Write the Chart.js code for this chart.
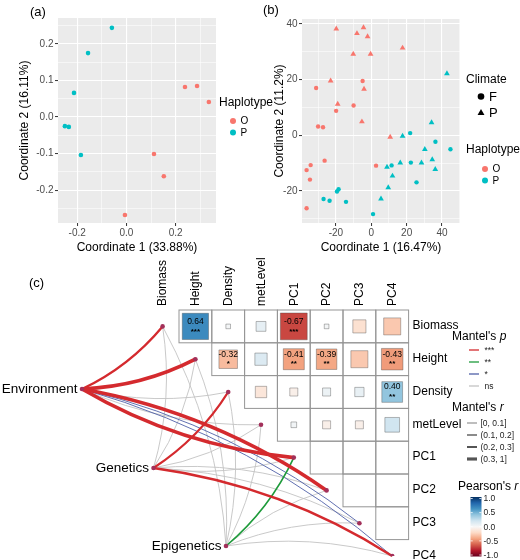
<!DOCTYPE html>
<html>
<head>
<meta charset="utf-8">
<script src="https://cdn.jsdelivr.net/npm/chart.js@4.4.1/dist/chart.umd.min.js"></script>
<style>
html,body{margin:0;padding:0;background:#ffffff;}
#wrap{position:relative;width:520px;height:560px;overflow:hidden;background:#ffffff;}
canvas{position:absolute;display:block;}
</style>
</head>
<body>
<div id="wrap">
<canvas id="chartA" width="290" height="270" style="left:0;top:0;width:290px;height:270px"></canvas>
<canvas id="chartB" width="260" height="270" style="left:260px;top:0;width:260px;height:270px"></canvas>
<canvas id="chartC" width="520" height="310" style="left:0;top:250px;width:520px;height:310px"></canvas>
</div>
<script>
// ================= DATA =================
// Panel (a): PCoA by haplotype
const haplotypes = ['O', 'P'];
const aO_x = [0.238, 0.287, 0.335, 0.112, 0.152, -0.006];
const aO_y = [0.082, 0.085, 0.041, -0.101, -0.162, -0.268];
const aP_x = [-0.059, -0.156, -0.213, -0.250, -0.234, -0.185];
const aP_y = [0.244, 0.175, 0.066, -0.025, -0.027, -0.104];

// Panel (b): by haplotype x climate
const climates = ['F', 'P'];
const bOF_x = [-31.2, -4.9, -10.0, -19.9, -30.1, -27.3, -26.4, -34.3, -36.6, -34.7, 2.7, -36.6];
const bOF_y = [17.0, 19.5, 10.7, 8.8, 3.2, 2.9, -9.1, -10.7, -12.5, -15.9, -10.9, -26.2];
const bOP_x = [-19.8, -8.1, -4.4, -2.1, -10.2, -0.4, 17.7, -23.0, -4.1, -19.0, -5.3, 10.7];
const bOP_y = [38.3, 36.6, 38.7, 35.5, 29.2, 29.2, 31.4, 19.6, 16.6, 11.2, 4.9, -0.6];
const bPF_x = [22.0, 36.3, 44.8, 22.4, 11.5, 25.6, -19.4, -18.5, -27.0, -23.6, -14.3, 1.0];
const bPF_y = [0.8, -2.3, -5.0, -9.8, -10.8, -16.9, -20.2, -19.4, -22.9, -23.5, -23.9, -28.3];
const bPP_x = [17.7, 42.8, 34.1, 30.3, 34.5, 36.2, 28.4, 16.4, 8.9, 12.0, 9.6, 5.5];
const bPP_y = [-0.3, 22.2, 4.6, -5.0, -8.7, -12.2, -9.9, -9.9, -11.4, -14.6, -18.8, -22.8];

// Panel (c): Pearson's r (upper triangle, rows vs later columns)
const traits = ['Biomass', 'Height', 'Density', 'metLevel', 'PC1', 'PC2', 'PC3', 'PC4'];
const pearsonBiomass  = [0.64, 0.02, 0.09, -0.67, 0.02, -0.16, -0.27];
const pearsonHeight   = [-0.32, 0.14, -0.41, -0.39, -0.27, -0.43];
const pearsonDensity  = [-0.12, -0.06, 0.06, 0.08, 0.40];
const pearsonMetLevel = [0.03, -0.06, -0.06, 0.20];
const pearsonPC1 = [null, null, null];
const pearsonPC2 = [null, null];
const pearsonPC3 = [null];
const sigBiomass  = ['***', '', '', '***', '', '', ''];
const sigHeight   = ['*', '', '**', '**', '', '**'];
const sigDensity  = ['', '', '', '', '**'];
const sigMetLevel = ['', '', '', ''];
const sigPC1 = ['', '', ''];
const sigPC2 = ['', ''];
const sigPC3 = [''];

// Mantel tests: sources vs traits
const sources = ['Environment', 'Genetics', 'Epigenetics'];
const mantelP_Environment = ['***', '***', 'ns', 'ns', '***', '***', '*', '*'];
const mantelR_Environment = [0.25, 0.36, 0.05, 0.06, 0.38, 0.36, 0.08, 0.08];
const mantelP_Genetics    = ['ns', 'ns', '***', 'ns', 'ns', 'ns', 'ns', '***'];
const mantelR_Genetics    = [0.05, 0.06, 0.26, 0.04, 0.05, 0.03, 0.05, 0.24];
const mantelP_Epigenetics = ['ns', 'ns', 'ns', 'ns', '**', 'ns', 'ns', 'ns'];
const mantelR_Epigenetics = [0.04, 0.05, 0.03, 0.06, 0.15, 0.05, 0.04, 0.06];

const mantelPLevels = ['***', '**', '*', 'ns'];
const mantelRBins = ['[0, 0.1]', '(0.1, 0.2]', '(0.2, 0.3]', '(0.3, 1]'];
const mantelRBinRep = [0.05, 0.15, 0.25, 0.5];
const corTicks = [1.0, 0.5, 0.0, -0.5, -1.0];

// ================= STYLE / HELPERS =================
const FONT = "'Liberation Sans', Arial, Helvetica, sans-serif";
Chart.defaults.font.family = FONT;
Chart.defaults.animation = false;
Chart.defaults.plugins.legend.display = false;
Chart.defaults.plugins.tooltip.enabled = false;

const hapColor = { O: '#F8766D', P: '#00BFC4' };

function isMajor(v, step) { const q = v / step; return Math.abs(q - Math.round(q)) < 1e-6; }
function ggAxis(o) {
  return {
    type: 'linear', min: o.min, max: o.max, position: o.position,
    afterFit(s) { if (o.position === 'bottom') s.height = o.size; else s.width = o.size; },
    border: { display: false },
    grid: {
      color: '#FFFFFF',
      lineWidth: c => (c.tick && isMajor(c.tick.value, o.major)) ? 1.1 : 0.55,
      drawTicks: true, tickLength: 3, tickWidth: 1,
      tickColor: c => (c.tick && isMajor(c.tick.value, o.major)) ? '#333333' : 'rgba(0,0,0,0)'
    },
    ticks: {
      stepSize: o.major / 2, includeBounds: false, autoSkip: false, maxRotation: 0, minRotation: 0,
      padding: 1.5, color: '#4D4D4D', font: { size: 10 },
      callback: v => isMajor(v, o.major) ? o.fmt(Math.abs(v) < 1e-9 ? 0 : v) : ''
    },
    title: { display: true, text: o.title, color: '#000000', font: { size: 12 }, padding: 0 }
  };
}
const ggPanel = {
  id: 'ggPanel',
  beforeDraw(chart) {
    const a = chart.chartArea, ctx = chart.ctx;
    ctx.save(); ctx.fillStyle = '#EBEBEB'; ctx.fillRect(a.left, a.top, a.width, a.height); ctx.restore();
  }
};
function drawKey(ctx, style, x, y, r, color) {
  ctx.fillStyle = color; ctx.beginPath();
  if (style === 'triangle') {
    for (let k = 0; k < 3; k++) {
      const a = -Math.PI / 2 + k * 2 * Math.PI / 3;
      const xx = x + r * Math.cos(a), yy = y + r * Math.sin(a);
      if (k === 0) ctx.moveTo(xx, yy); else ctx.lineTo(xx, yy);
    }
    ctx.closePath();
  } else {
    ctx.arc(x, y, r, 0, Math.PI * 2);
  }
  ctx.fill();
}
const pts = (xs, ys) => xs.map((x, i) => ({ x: x, y: ys[i] }));
function scatterSet(data, color, style, r) {
  return { data: data, pointStyle: style, pointRadius: r, pointBackgroundColor: color,
           pointBorderColor: color, pointBorderWidth: 0, showLine: false };
}

// ================= PANEL (a) =================
new Chart(document.getElementById('chartA'), {
  type: 'scatter',
  data: { datasets: [
    scatterSet(pts(aO_x, aO_y), hapColor.O, 'circle', 2.3),
    scatterSet(pts(aP_x, aP_y), hapColor.P, 'circle', 2.3)
  ] },
  options: {
    responsive: false, events: [],
    layout: { padding: { left: 17.8, right: 74, top: 18, bottom: 14.8 } },
    scales: {
      x: ggAxis({ position: 'bottom', min: -0.278, max: 0.364, major: 0.2, size: 32.2,
                  title: 'Coordinate 1 (33.88%)', fmt: v => v.toFixed(1) }),
      y: ggAxis({ position: 'left', min: -0.290, max: 0.271, major: 0.1, size: 40.2,
                  title: 'Coordinate 2 (16.11%)', fmt: v => v.toFixed(1) })
    }
  },
  plugins: [ggPanel, {
    id: 'legA',
    afterDraw(chart) {
      const ctx = chart.ctx; ctx.save();
      ctx.fillStyle = '#000'; ctx.textBaseline = 'middle'; ctx.textAlign = 'left';
      ctx.font = '13px ' + FONT; ctx.fillText('(a)', 30, 12);
      ctx.font = '12px ' + FONT; ctx.fillText('Haplotype', 219, 103);
      haplotypes.forEach((h, i) => {
        const y = 121 + i * 11.5;
        drawKey(ctx, 'circle', 233, y, 3, hapColor[h]);
        ctx.fillStyle = '#000'; ctx.font = '10px ' + FONT; ctx.fillText(h, 240.5, y + 0.5);
      });
      ctx.restore();
    }
  }]
});

// ================= PANEL (b) =================
new Chart(document.getElementById('chartB'), {
  type: 'scatter',
  data: { datasets: [
    scatterSet(pts(bOF_x, bOF_y), hapColor.O, 'circle', 2.2),
    scatterSet(pts(bOP_x, bOP_y), hapColor.O, 'triangle', 3.3),
    scatterSet(pts(bPF_x, bPF_y), hapColor.P, 'circle', 2.2),
    scatterSet(pts(bPP_x, bPP_y), hapColor.P, 'triangle', 3.3)
  ] },
  options: {
    responsive: false, events: [],
    layout: { padding: { left: 12.8, right: 60, top: 19, bottom: 14.8 } },
    scales: {
      x: ggAxis({ position: 'bottom', min: -39.2, max: 50.2, major: 20, size: 32.2,
                  title: 'Coordinate 1 (16.47%)', fmt: v => String(Math.round(v)) }),
      y: ggAxis({ position: 'left', min: -31.5, max: 41.8, major: 20, size: 29.2,
                  title: 'Coordinate 2 (11.2%)', fmt: v => String(Math.round(v)) })
    }
  },
  plugins: [ggPanel, {
    id: 'legB',
    afterDraw(chart) {
      const ctx = chart.ctx; ctx.save();
      ctx.fillStyle = '#000'; ctx.textBaseline = 'middle'; ctx.textAlign = 'left';
      ctx.font = '13px ' + FONT; ctx.fillText('(b)', 3, 10);
      ctx.font = '12px ' + FONT; ctx.fillText('Climate', 206, 80);
      climates.forEach((c, i) => {
        const y = 96.5 + i * 16.5;
        drawKey(ctx, i === 0 ? 'circle' : 'triangle', 221, y, i === 0 ? 3.3 : 4, '#000');
        ctx.fillStyle = '#000'; ctx.font = '13px ' + FONT; ctx.fillText(c, 229, y + 0.5);
      });
      ctx.font = '12px ' + FONT; ctx.fillText('Haplotype', 206, 150);
      haplotypes.forEach((h, i) => {
        const y = 169 + i * 11.5;
        drawKey(ctx, 'circle', 225, y, 3, hapColor[h]);
        ctx.fillStyle = '#000'; ctx.font = '10px ' + FONT; ctx.fillText(h, 232.5, y + 0.5);
      });
      ctx.restore();
    }
  }]
});

// ================= PANEL (c) =================
const heatRows = [pearsonBiomass, pearsonHeight, pearsonDensity, pearsonMetLevel, pearsonPC1, pearsonPC2, pearsonPC3];
const heatSigRows = [sigBiomass, sigHeight, sigDensity, sigMetLevel, sigPC1, sigPC2, sigPC3];
const mantelP = [mantelP_Environment, mantelP_Genetics, mantelP_Epigenetics];
const mantelR = [mantelR_Environment, mantelR_Genetics, mantelR_Epigenetics];

const heatPoints = [];
heatRows.forEach((row, i) => row.forEach((v, jj) => {
  if (v !== null) heatPoints.push({ x: i + 1 + jj, y: i, v: v, s: heatSigRows[i][jj] });
}));

const rdbuStops = ['#67001F', '#B2182B', '#D6604D', '#F4A582', '#FDDBC7', '#F7F7F7',
                   '#D1E5F0', '#92C5DE', '#4393C3', '#2166AC', '#053061'];
function hex2rgb(h) { return [parseInt(h.substr(1, 2), 16), parseInt(h.substr(3, 2), 16), parseInt(h.substr(5, 2), 16)]; }
function rdbu(v) {
  const t = (Math.max(-1, Math.min(1, v)) + 1) / 2 * 10;
  const i = Math.min(9, Math.floor(t)), f = t - i;
  const a = hex2rgb(rdbuStops[i]), b = hex2rgb(rdbuStops[i + 1]);
  return 'rgb(' + a.map((c, k) => Math.round(c + (b[k] - c) * f)).join(',') + ')';
}
const linkColor = { '***': '#D42A2E', '**': '#1E9B3B', '*': '#5061A8', 'ns': '#C3C3C3' };
function linkWidth(r) { return r <= 0.1 ? 0.9 : (r <= 0.2 ? 1.6 : (r <= 0.3 ? 2.3 : 3.7)); }

// layout of source nodes (grid units of the correlation matrix)
const srcLayout = [{ x: -2.457, y: 1.909 }, { x: -0.277, y: 4.317 }, { x: 1.933, y: 6.695 }];
const CURV = 0.11;
const C_TOP = 250;
const cy = pageY => pageY - C_TOP;

function cellPx(chart) { const X = chart.scales.x; return Math.abs(X.getPixelForValue(1) - X.getPixelForValue(0)); }

function italicTitle(ctx, normal, ital, x, y, size) {
  ctx.font = size + 'px ' + FONT; ctx.fillText(normal, x, y);
  const w = ctx.measureText(normal).width;
  ctx.font = 'italic ' + size + 'px ' + FONT; ctx.fillText(ital, x + w, y);
}

new Chart(document.getElementById('chartC'), {
  type: 'scatter',
  data: { datasets: [
    {
      data: heatPoints, pointStyle: 'rect',
      pointRadius: c => c.raw ? cellPx(c.chart) * Math.sqrt(Math.abs(c.raw.v)) / Math.SQRT2 : 3,
      pointBackgroundColor: c => c.raw ? rdbu(c.raw.v) : '#fff',
      pointBorderColor: 'rgba(70,70,70,0.55)', pointBorderWidth: 0.7
    },
    {
      data: traits.map((t, k) => ({ x: k, y: k })), pointStyle: 'circle', pointRadius: 2.3,
      pointBackgroundColor: '#A2305A', pointBorderWidth: 0
    },
    {
      data: srcLayout.map(p => ({ x: p.x, y: p.y })), pointStyle: 'circle', pointRadius: 2.3,
      pointBackgroundColor: '#A2305A', pointBorderWidth: 0
    }
  ] },
  options: {
    responsive: false, events: [],
    layout: { padding: { left: 15, right: 13, top: 27.2, bottom: 4 } },
    scales: {
      x: { type: 'linear', display: false, min: -4.5, max: 10.5 },
      y: { type: 'linear', display: false, min: -1.5, max: 7, reverse: true }
    }
  },
  plugins: [{
    id: 'panelC',
    beforeDatasetsDraw(chart) {
      const ctx = chart.ctx, X = chart.scales.x, Y = chart.scales.y;
      const px = v => X.getPixelForValue(v), py = v => Y.getPixelForValue(v);
      const cw = cellPx(chart);
      ctx.save();
      ctx.strokeStyle = '#959595'; ctx.lineWidth = 1;
      heatRows.forEach((row, i) => row.forEach((v, jj) => {
        const j = i + 1 + jj;
        ctx.strokeRect(px(j) - cw / 2, py(i) - cw / 2, cw, cw);
      }));
      const links = [];
      sources.forEach((s, si) => traits.forEach((t, ti) =>
        links.push({ si: si, ti: ti, p: mantelP[si][ti], r: mantelR[si][ti] })));
      const rank = l => (l.p === 'ns' ? 0 : 10) + linkWidth(l.r);
      links.sort((a, b) => rank(a) - rank(b));
      ctx.lineCap = 'butt';
      links.forEach(l => {
        const x0 = px(srcLayout[l.si].x), y0 = py(srcLayout[l.si].y);
        const x1 = px(l.ti), y1 = py(l.ti);
        const dx = x1 - x0, dy = y1 - y0;
        const k = (l.ti <= 4 ? 1 : -1) * CURV;
        const cxp = (x0 + x1) / 2 - k * dy, cyp = (y0 + y1) / 2 + k * dx;
        ctx.strokeStyle = linkColor[l.p]; ctx.lineWidth = linkWidth(l.r);
        ctx.beginPath(); ctx.moveTo(x0, y0); ctx.quadraticCurveTo(cxp, cyp, x1, y1); ctx.stroke();
      });
      ctx.restore();
    },
    afterDatasetsDraw(chart) {
      const ctx = chart.ctx, X = chart.scales.x, Y = chart.scales.y;
      const px = v => X.getPixelForValue(v), py = v => Y.getPixelForValue(v);
      const cw = cellPx(chart);
      ctx.save();
      ctx.fillStyle = '#000'; ctx.textAlign = 'center'; ctx.textBaseline = 'middle';
      // values in significant cells
      heatPoints.forEach(p => {
        if (!p.s) return;
        const x = px(p.x), y = py(p.y);
        ctx.font = '8.5px ' + FONT; ctx.fillText(p.v.toFixed(2), x, y - 5);
        ctx.font = 'bold 8px ' + FONT; ctx.fillText(p.s, x, y + 5);
      });
      // row labels
      ctx.textAlign = 'left'; ctx.font = '12px ' + FONT;
      traits.forEach((t, k) => ctx.fillText(t, px(7) + cw / 2 + 4, py(k) - 0.5));
      // column labels (rotated)
      traits.forEach((t, k) => {
        ctx.save(); ctx.translate(px(k) + 0.5, py(0) - cw / 2 - 4); ctx.rotate(-Math.PI / 2);
        ctx.textAlign = 'left'; ctx.fillText(t, 0, 0); ctx.restore();
      });
      // source labels
      ctx.textAlign = 'right'; ctx.font = '13.5px ' + FONT;
      sources.forEach((s, si) => ctx.fillText(s, px(srcLayout[si].x) - 4.5, py(srcLayout[si].y) + 0.5));
      // panel label
      ctx.textAlign = 'left'; ctx.font = '13px ' + FONT; ctx.fillText('(c)', 29, cy(283));
      // Mantel's p legend
      ctx.fillStyle = '#000';
      italicTitle(ctx, "Mantel's ", 'p', 452, cy(337), 12);
      mantelPLevels.forEach((lv, i) => {
        const y = cy(350 + i * 12);
        ctx.strokeStyle = linkColor[lv]; ctx.lineWidth = 1.3;
        ctx.beginPath(); ctx.moveTo(469, y); ctx.lineTo(479, y); ctx.stroke();
        ctx.fillStyle = '#222'; ctx.font = '8.5px ' + FONT; ctx.fillText(lv, 484.5, y + 0.5);
      });
      // Mantel's r legend
      ctx.fillStyle = '#000';
      italicTitle(ctx, "Mantel's ", 'r', 452, cy(407.5), 12);
      mantelRBins.forEach((lb, i) => {
        const y = cy(423 + i * 12);
        ctx.strokeStyle = '#555555'; ctx.lineWidth = linkWidth(mantelRBinRep[i]) * 0.85;
        ctx.beginPath(); ctx.moveTo(467, y); ctx.lineTo(477, y); ctx.stroke();
        ctx.fillStyle = '#222'; ctx.font = '8.5px ' + FONT; ctx.fillText(lb, 480.5, y + 0.5);
      });
      // Pearson's r colorbar
      ctx.fillStyle = '#000';
      italicTitle(ctx, "Pearson's ", 'r', 458, cy(487), 12);
      const bx = 470.5, bw = 11, bt = cy(497), bb = cy(556.5);
      const g = ctx.createLinearGradient(0, bt, 0, bb);
      for (let k = 0; k <= 10; k++) g.addColorStop(k / 10, rdbuStops[10 - k]);
      ctx.fillStyle = g; ctx.fillRect(bx, bt, bw, bb - bt);
      const tTop = bt + 1.5, tBot = bb - 1.5;
      ctx.strokeStyle = '#FFFFFF'; ctx.lineWidth = 0.8;
      ctx.font = '8.5px ' + FONT; ctx.textAlign = 'left';
      corTicks.forEach(v => {
        const y = tTop + (1 - v) / 2 * (tBot - tTop);
        ctx.beginPath(); ctx.moveTo(bx, y); ctx.lineTo(bx + 2.2, y);
        ctx.moveTo(bx + bw - 2.2, y); ctx.lineTo(bx + bw, y); ctx.stroke();
        ctx.fillStyle = '#222'; ctx.fillText(v.toFixed(1), bx + bw + 2, y + 0.5);
      });
      ctx.restore();
    }
  }]
});
</script>
</body>
</html>
